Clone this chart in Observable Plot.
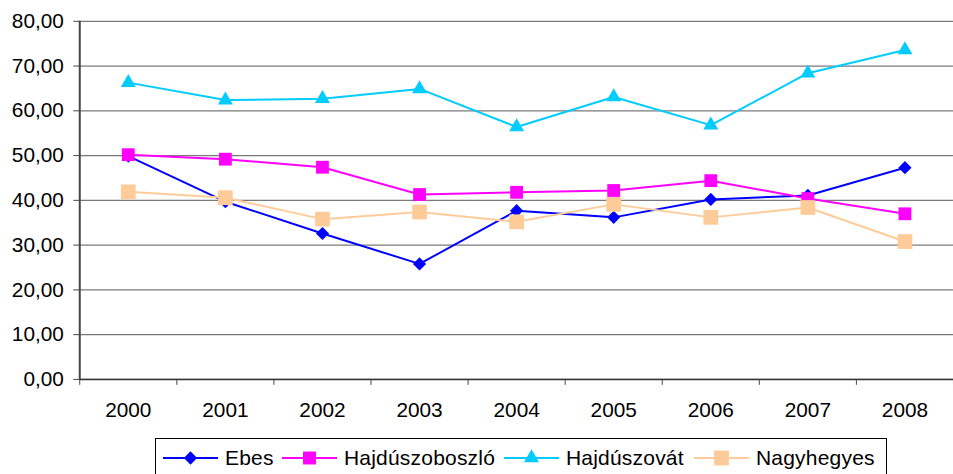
<!DOCTYPE html>
<html>
<head>
<meta charset="utf-8">
<script src="https://cdn.jsdelivr.net/npm/d3@7"></script>
<script src="https://cdn.jsdelivr.net/npm/@observablehq/plot@0.6"></script>
<style>
  html, body { margin: 0; padding: 0; background: #fff; overflow: hidden; width: 953px; height: 474px; }
  #chart { font-family: Arial, "Liberation Sans", sans-serif; }
  #legend {
    position: absolute; left: 155px; top: 438px; width: 732px; height: 40px;
    border: 1px solid #000; box-sizing: border-box; background: #fff;
    font-family: Arial, "Liberation Sans", sans-serif; font-size: 21px; color: #000;
  }
  .item { position: absolute; top: 0; height: 38px; display: flex; align-items: center; white-space: nowrap; }
  .item svg { margin-right: 7px; }
  .item span { letter-spacing: 0.2px; }
</style>
</head>
<body>
<div id="chart"></div>
<div id="legend"></div>
<script>
const years = [2000, 2001, 2002, 2003, 2004, 2005, 2006, 2007, 2008];
const seriesNames = ["Ebes", "Hajdúszoboszló", "Hajdúszovát", "Nagyhegyes"];
const ebes           = [49.9, 39.7, 32.6, 25.8, 37.7, 36.2, 40.2, 41.1, 47.3];
const hajduszoboszlo = [50.2, 49.2, 47.4, 41.3, 41.8, 42.2, 44.4, 40.4, 37.0];
const hajduszovat    = [66.3, 62.4, 62.7, 64.9, 56.4, 63.1, 56.8, 68.4, 73.6];
const nagyhegyes     = [41.9, 40.6, 35.8, 37.4, 35.2, 39.1, 36.2, 38.4, 30.8];
const yTicks = [0, 10, 20, 30, 40, 50, 60, 70, 80];

const seriesValues = [ebes, hajduszoboszlo, hajduszovat, nagyhegyes];
const colors  = ["#0000FF", "#FF00FF", "#00CCFF", "#FFCC99"];
const symbols = ["diamond2", "square", "triangle", "square"];
const radii   = [6.0, 7.3, 5.6, 8.4];
const legendLeft = [7, 126, 348, 538]; // item offsets inside the legend box (px)

const data = seriesNames.flatMap((name, i) =>
  years.map((year, j) => ({ series: name, year, value: seriesValues[i][j] }))
);

const fmt = d => d.toFixed(2).replace(".", ",");
const boundaries = [...years.map(y => y - 0.5), years[years.length - 1] + 0.5];

const marks = [
  Plot.gridY({ ticks: yTicks, stroke: "#7a7a7a", strokeOpacity: 1, strokeWidth: 1.3 }),
  Plot.ruleY([yTicks[0]], { stroke: "#333", strokeWidth: 1.5 }),
  Plot.ruleX([boundaries[0]], { stroke: "#444", strokeWidth: 2 }),
  Plot.axisY({ ticks: yTicks, tickFormat: fmt, tickSize: 6, tickPadding: 10, label: null, fontSize: 21, stroke: "#444" }),
  Plot.axisX({ ticks: years, tickSize: 0, tickPadding: 23, tickFormat: d => String(d), label: null, fontSize: 21 }),
  Plot.axisX({ ticks: boundaries, tickSize: 6, tickFormat: () => "", label: null, stroke: "#444" })
];

seriesNames.forEach((name, i) => {
  const rows = data.filter(d => d.series === name);
  marks.push(Plot.line(rows, { x: "year", y: "value", stroke: colors[i], strokeWidth: 2 }));
  marks.push(Plot.dot(rows, { x: "year", y: "value", symbol: () => symbols[i], fill: colors[i], r: radii[i], stroke: "none" }));
});

const chart = Plot.plot({
  width: 962,
  height: 438,
  marginLeft: 80,
  marginRight: 0,
  marginTop: 21,
  marginBottom: 55.5,
  style: { fontFamily: 'Arial, "Liberation Sans", sans-serif', fontSize: "21px", color: "#000", background: "#fff", overflow: "visible" },
  x: { type: "linear", domain: [boundaries[0], boundaries[boundaries.length - 1]] },
  y: { domain: [0, 80] },
  symbol: { type: "identity" },
  marks
});
document.getElementById("chart").appendChild(chart);

// Legend
const legend = document.getElementById("legend");
const symMap = { diamond2: d3.symbolDiamond2, square: d3.symbolSquare, triangle: d3.symbolTriangle };
seriesNames.forEach((name, i) => {
  const item = document.createElement("div");
  item.className = "item";
  item.style.left = legendLeft[i] + "px";
  const sw = d3.create("svg").attr("width", 55).attr("height", 20);
  sw.append("line").attr("x1", 0).attr("x2", 55).attr("y1", 10).attr("y2", 10)
    .attr("stroke", colors[i]).attr("stroke-width", 2);
  sw.append("path").attr("transform", "translate(27.5,10)")
    .attr("d", d3.symbol(symMap[symbols[i]], radii[i] * radii[i] * Math.PI)())
    .attr("fill", colors[i]);
  item.appendChild(sw.node());
  const t = document.createElement("span");
  t.textContent = name;
  item.appendChild(t);
  legend.appendChild(item);
});
</script>
</body>
</html>
